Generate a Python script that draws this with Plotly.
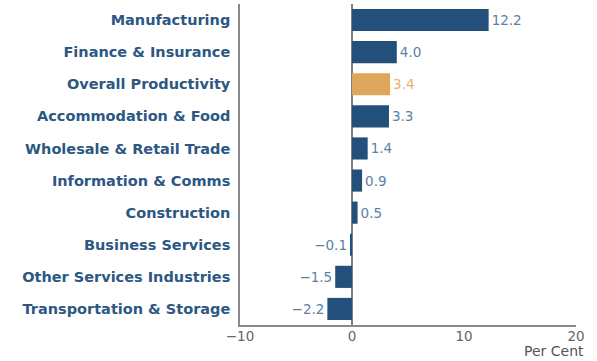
import plotly.graph_objects as go

categories = ["Manufacturing", "Finance & Insurance", "Overall Productivity",
              "Accommodation & Food", "Wholesale & Retail Trade", "Information & Comms",
              "Construction", "Business Services", "Other Services Industries",
              "Transportation & Storage"]
values = [12.2, 4.0, 3.4, 3.3, 1.4, 0.9, 0.5, -0.1, -1.5, -2.2]
highlight = "Overall Productivity"
x_ticks = [-10, 0, 10, 20]

BLUE = "#22507a"
GOLD = "#dea75c"
bar_colors = [GOLD if c == highlight else BLUE for c in categories]
text_colors = ["#e3b36f" if c == highlight else "#5b80a6" for c in categories]
labels = ["\u2212%.1f" % abs(v) if v < 0 else "%.1f" % v for v in values]

fig = go.Figure(go.Bar(
    x=values, y=categories, orientation="h",
    marker=dict(color=bar_colors, line=dict(width=0)),
    text=labels, textposition="outside", cliponaxis=False,
    textfont=dict(color=text_colors, size=13.5, family="DejaVu Sans"),
))

fig.update_layout(
    width=597, height=361,
    margin=dict(l=240, r=21, t=4, b=36),
    paper_bgcolor="white", plot_bgcolor="white",
    bargap=0.31, showlegend=False,
    font=dict(family="DejaVu Sans"),
    xaxis=dict(range=[-10, 20], tickvals=x_ticks, showgrid=False,
               zeroline=True, zerolinecolor="#808080", zerolinewidth=2,
               showline=True, linecolor="#8a8a8a", linewidth=1.5,
               tickfont=dict(size=13.5, color="#666666"), ticks="",
               ticklabelstandoff=-2),
    yaxis=dict(autorange="reversed", showgrid=False, showline=True,
               linecolor="#8a8a8a", linewidth=1.5, ticks="", ticksuffix=" ",
               tickfont=dict(size=14.5, color="#2c5882", family="DejaVu Sans", weight="bold")),
    annotations=[dict(text="Per Cent", x=1.03, xref="paper", xanchor="right",
                      y=-0.082, yref="paper", yanchor="middle", showarrow=False,
                      font=dict(size=14, color="#555555"))],
)

fig.write_html("out.html", config={"displayModeBar": False},
               post_script="document.body.style.margin='0';document.body.style.padding='0';")
